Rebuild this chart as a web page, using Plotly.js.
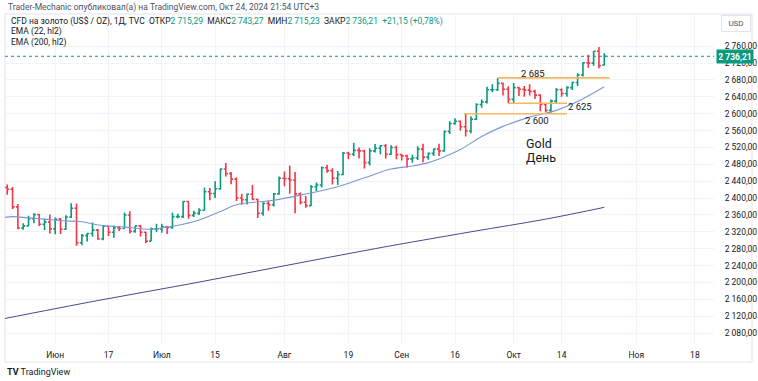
<!DOCTYPE html>
<html>
<head>
<meta charset="utf-8">
<script src="https://cdn.plot.ly/plotly-3.0.1.min.js"></script>
<style>
html,body{margin:0;padding:0;background:#fff;}
#chart{width:758px;height:381px;}
</style>
</head>
<body>
<div id="chart"></div>
<script>
// ---- data ----
const dates = [
"2024-05-20","2024-05-21","2024-05-22","2024-05-23","2024-05-24",
"2024-05-27","2024-05-28","2024-05-29","2024-05-30","2024-05-31",
"2024-06-03","2024-06-04","2024-06-05","2024-06-06","2024-06-07",
"2024-06-10","2024-06-11","2024-06-12","2024-06-13","2024-06-14",
"2024-06-17","2024-06-18","2024-06-19","2024-06-20","2024-06-21",
"2024-06-24","2024-06-25","2024-06-26","2024-06-27","2024-06-28",
"2024-07-01","2024-07-02","2024-07-03","2024-07-04","2024-07-05",
"2024-07-08","2024-07-09","2024-07-10","2024-07-11","2024-07-12",
"2024-07-15","2024-07-16","2024-07-17","2024-07-18","2024-07-19",
"2024-07-22","2024-07-23","2024-07-24","2024-07-25","2024-07-26",
"2024-07-29","2024-07-30","2024-07-31","2024-08-01","2024-08-02",
"2024-08-05","2024-08-06","2024-08-07","2024-08-08","2024-08-09",
"2024-08-12","2024-08-13","2024-08-14","2024-08-15","2024-08-16",
"2024-08-19","2024-08-20","2024-08-21","2024-08-22","2024-08-23",
"2024-08-26","2024-08-27","2024-08-28","2024-08-29","2024-08-30",
"2024-09-02","2024-09-03","2024-09-04","2024-09-05","2024-09-06",
"2024-09-09","2024-09-10","2024-09-11","2024-09-12","2024-09-13",
"2024-09-16","2024-09-17","2024-09-18","2024-09-19","2024-09-20",
"2024-09-23","2024-09-24","2024-09-25","2024-09-26","2024-09-27",
"2024-09-30","2024-10-01","2024-10-02","2024-10-03","2024-10-04",
"2024-10-07","2024-10-08","2024-10-09","2024-10-10","2024-10-11",
"2024-10-14","2024-10-15","2024-10-16","2024-10-17","2024-10-18",
"2024-10-21","2024-10-22","2024-10-23","2024-10-24"];

const opens = [
2415,2425,2421,2379,2329, 2334,2351,2361,2338,2343,
2327,2350,2326,2355,2376, 2294,2311,2316,2324,2303,
2333,2319,2329,2328,2360, 2321,2334,2319,2298,2327,
2327,2332,2330,2356,2356, 2392,2359,2364,2371,2415,
2411,2422,2469,2458,2445, 2400,2396,2409,2397,2364,
2387,2384,2410,2447,2446, 2443,2410,2390,2382,2427,
2431,2472,2465,2447,2456, 2507,2504,2513,2512,2484,
2512,2518,2524,2504,2520, 2503,2500,2493,2495,2516,
2497,2506,2516,2512,2558, 2577,2582,2569,2559,2587,
2622,2628,2657,2657,2672, 2658,2634,2662,2658,2656,
2653,2644,2622,2608,2630, 2657,2648,2662,2674,2692,
2721,2720,2748,2715.29];
const highs = [
2450,2432,2426,2386,2340, 2358,2364,2362,2351,2361,
2354,2353,2359,2388,2387, 2315,2317,2342,2327,2336,
2334,2335,2334,2366,2369, 2334,2336,2320,2330,2339,
2339,2334,2365,2363,2393, 2393,2370,2376,2425,2424,
2440,2470,2483,2462,2449, 2410,2411,2431,2398,2390,
2394,2412,2451,2463,2477, 2462,2413,2405,2431,2437,
2475,2479,2471,2464,2509, 2510,2531,2520,2514,2518,
2528,2526,2528,2525,2524, 2504,2503,2503,2523,2529,
2508,2517,2529,2560,2582, 2589,2584,2600,2594,2625,
2634,2664,2670,2685,2674, 2665,2673,2664,2666,2670,
2657,2646,2625,2634,2661, 2660,2665,2676,2696,2722,
2740,2749,2758,2743.27];
const lows = [
2412,2408,2374,2326,2325, 2333,2340,2334,2324,2316,
2314,2315,2325,2353,2287, 2288,2297,2308,2301,2300,
2310,2306,2322,2328,2316, 2318,2309,2293,2298,2319,
2318,2315,2327,2352,2353, 2351,2355,2360,2370,2395,
2400,2420,2451,2433,2393, 2384,2385,2396,2353,2358,
2370,2380,2408,2428,2410, 2364,2385,2377,2381,2417,
2425,2460,2432,2431,2454, 2492,2500,2494,2470,2477,
2508,2504,2494,2502,2492, 2489,2472,2484,2490,2485,
2491,2500,2500,2510,2552, 2574,2560,2546,2554,2585,
2614,2624,2651,2654,2643, 2625,2624,2642,2640,2643,
2635,2606,2604,2603,2624, 2640,2640,2656,2666,2688,
2709,2714,2708,2715.23];
const closes = [
2425,2421,2379,2329,2334, 2351,2361,2338,2343,2327,
2350,2326,2355,2376,2294, 2311,2316,2324,2303,2333,
2319,2329,2328,2360,2321, 2334,2319,2298,2327,2327,
2332,2330,2356,2356,2392, 2359,2364,2371,2415,2411,
2422,2469,2458,2445,2400, 2396,2409,2397,2364,2387,
2384,2410,2447,2446,2443, 2410,2390,2382,2427,2431,
2472,2465,2447,2456,2507, 2504,2513,2512,2484,2512,
2518,2524,2504,2520,2503, 2500,2493,2495,2516,2497,
2506,2516,2512,2558,2577, 2582,2569,2559,2587,2622,
2628,2657,2657,2672,2658, 2634,2662,2658,2656,2653,
2644,2622,2608,2630,2657, 2648,2662,2674,2692,2721,
2720,2748,2714,2736.21];

// EMA (22, hl2)
const ema22Dates = ["2024-05-20","2024-05-22","2024-05-27","2024-05-30","2024-06-05","2024-06-10","2024-06-13","2024-06-20","2024-06-27","2024-07-02","2024-07-05","2024-07-10","2024-07-16","2024-07-19","2024-07-30","2024-08-06","2024-08-15","2024-08-22","2024-08-29","2024-09-04","2024-09-09","2024-09-12","2024-09-17","2024-09-23","2024-09-27","2024-10-04","2024-10-11","2024-10-17","2024-10-24"];
const ema22Vals  = [2353,2356,2353,2350,2346,2344,2336,2331,2326,2331,2338,2348,2368,2384,2395,2407,2427,2448,2469,2476,2484,2498,2515,2546,2570,2592,2608,2629,2664];
// EMA (200, hl2)
const ema200Dates = ["2024-05-20","2024-06-13","2024-07-08","2024-07-31","2024-08-26","2024-09-19","2024-10-09","2024-10-24"];
const ema200Vals  = [2113,2157,2196,2237,2280,2320,2350,2378];

// drawn levels
const levelVals   = [2685, 2625, 2600];
const levelStart  = ["2024-09-26","2024-09-30","2024-09-17 16:00"];
const levelEnd    = ["2024-10-25","2024-10-15","2024-10-15"];
const levelLabels = ["2 685","2 625","2 600"];

const tickDates = ["2024-06-03","2024-06-17","2024-07-01","2024-07-15","2024-08-01","2024-08-19","2024-09-02","2024-09-16","2024-10-01","2024-10-14","2024-11-01","2024-11-18"];
const tickText  = ["Июн","17","Июл","15","Авг","19","Сен","16","Окт","14","Ноя","18"];

const lastClose = 2736.21;

// ---- layout geometry (pixels) ----
const W = 758, H = 381;
const L = 5, R = 714, T = 14, B = 343;
const px = x => (x - L) / (R - L);
const py = y => (B - y) / (B - T);

const UP = "#089981", DN = "#f23645";
const FONT = "Roboto, 'Liberation Sans', sans-serif";
const TXT = "#131722";

const traces = [
  {type:"scatter", mode:"lines", x: ema200Dates, y: ema200Vals, line:{color:"#474a8c", width:1, shape:"spline"}, hoverinfo:"skip"},
  {type:"scatter", mode:"lines", x: ema22Dates, y: ema22Vals, line:{color:"#7d97d4", width:1.1, shape:"spline"}, hoverinfo:"skip"},
  {type:"ohlc", x: dates, open: opens, high: highs, low: lows, close: closes,
   increasing:{line:{color:UP, width:1.6}}, decreasing:{line:{color:DN, width:1.6}},
   tickwidth:0.38, hoverinfo:"skip"}
];

const shapes = [
  // outer frame
  {type:"rect", xref:"paper", yref:"paper", x0:0, x1:px(752), y0:py(362), y1:1, line:{color:"#e0e3eb", width:1}, layer:"below"},
  // last price dotted line
  {type:"line", xref:"paper", yref:"y", x0:0, x1:1, y0:lastClose, y1:lastClose, line:{color:UP, width:1, dash:"dot"}}
];
levelVals.forEach((v,i)=>{
  shapes.push({type:"line", xref:"x", yref:"y", x0:levelStart[i], x1:levelEnd[i], y0:v, y1:v, line:{color:"#f5b75f", width:1.6}});
});

const annotations = [
  {xref:"paper", yref:"paper", x:px(6), y:py(8), xanchor:"left", yanchor:"middle", showarrow:false,
   text:"Trader-Mechanic опубликовал(а) на TradingView.com, Окт 24, 2024 21:54 UTC+3", font:{family:FONT, size:8.5, color:"#4c525e"}},
  {xref:"paper", yref:"paper", x:px(9), y:py(21), xanchor:"left", yanchor:"middle", showarrow:false,
   text:"CFD на золото (US$ / OZ), 1Д, TVC  ОТКР<span style='color:#089981'>2 715,29</span>  МАКС<span style='color:#089981'>2 743,27</span>  МИН<span style='color:#089981'>2 715,23</span>  ЗАКР<span style='color:#089981'>2 736,21</span>  <span style='color:#089981'>+21,15 (+0,78%)</span>",
   font:{family:FONT, size:8.5, color:TXT}},
  {xref:"paper", yref:"paper", x:px(9), y:py(32), xanchor:"left", yanchor:"middle", showarrow:false,
   text:"EMA (22, hl2)", font:{family:FONT, size:8.5, color:TXT}},
  {xref:"paper", yref:"paper", x:px(9), y:py(42), xanchor:"left", yanchor:"middle", showarrow:false,
   text:"EMA (200, hl2)", font:{family:FONT, size:8.5, color:TXT}},
  // USD box
  {xref:"paper", yref:"paper", x:px(736), y:py(24), xanchor:"center", yanchor:"middle", showarrow:false,
   text:"USD", font:{family:FONT, size:8, color:"#4c525e"}, bordercolor:"#e0e3eb", borderwidth:1, borderpad:3, width:22, bgcolor:"#fff"},
  // last price label
  {xref:"paper", yref:"y", x:px(716), y:lastClose, xanchor:"left", yanchor:"middle", showarrow:false,
   text:"<b>2 736,21</b>", font:{family:FONT, size:8.5, color:"#fff"}, bgcolor:UP, borderpad:1.5, width:33},
  // Gold / День
  {xref:"paper", yref:"paper", x:px(524), y:py(143), xanchor:"left", yanchor:"middle", showarrow:false,
   text:"Gold", font:{family:FONT, size:12.5, color:TXT}},
  {xref:"paper", yref:"paper", x:px(524), y:py(157), xanchor:"left", yanchor:"middle", showarrow:false,
   text:"День", font:{family:FONT, size:12.5, color:TXT}},
  // TradingView logo text
  {xref:"paper", yref:"paper", x:px(5), y:py(372), xanchor:"left", yanchor:"middle", showarrow:false,
   text:"<b>TV</b> TradingView", font:{family:FONT, size:9, color:TXT}}
];
// level labels
const levelLabelPos = [[519,73],[566,106],[523,121]];
levelLabels.forEach((t,i)=>{
  annotations.push({xref:"paper", yref:"paper", x:px(levelLabelPos[i][0]), y:py(levelLabelPos[i][1]), xanchor:"left", yanchor:"middle", showarrow:false,
    text:t, font:{family:FONT, size:9.5, color:TXT}});
});

const layout = {
  width:W, height:H,
  margin:{l:L, r:W-R, t:T, b:H-B, pad:0},
  paper_bgcolor:"#fff", plot_bgcolor:"#fff",
  separators:", ",
  showlegend:false,
  font:{family:FONT, color:TXT, size:9},
  xaxis:{
    type:"date",
    range:["2024-05-20 14:00","2024-11-21 14:00"],
    rangebreaks:[{bounds:["sat","mon"]}],
    rangeslider:{visible:false},
    tickmode:"array", tickvals:tickDates, ticktext:tickText,
    showgrid:true, gridcolor:"#f0f3fa", gridwidth:1,
    zeroline:false, showline:false,
    ticks:"outside", ticklen:4, tickcolor:"rgba(0,0,0,0)",
    tickfont:{family:FONT, size:8.5, color:TXT},
    fixedrange:true
  },
  yaxis:{
    side:"right",
    range:[2056.3, 2836.5],
    tickmode:"array",
    tickvals:[2080,2120,2160,2200,2240,2280,2320,2360,2400,2440,2480,2520,2560,2600,2640,2680,2720,2760],
    tickformat:",.2f",
    showgrid:true, gridcolor:"#f0f3fa", gridwidth:1,
    zeroline:false, showline:false,
    ticks:"outside", ticklen:8, tickcolor:"rgba(0,0,0,0)",
    tickfont:{family:FONT, size:8.5, color:TXT},
    fixedrange:true
  },
  shapes: shapes,
  annotations: annotations
};

Plotly.newPlot("chart", traces, layout, {staticPlot:true, displayModeBar:false});
</script>
</body>
</html>
